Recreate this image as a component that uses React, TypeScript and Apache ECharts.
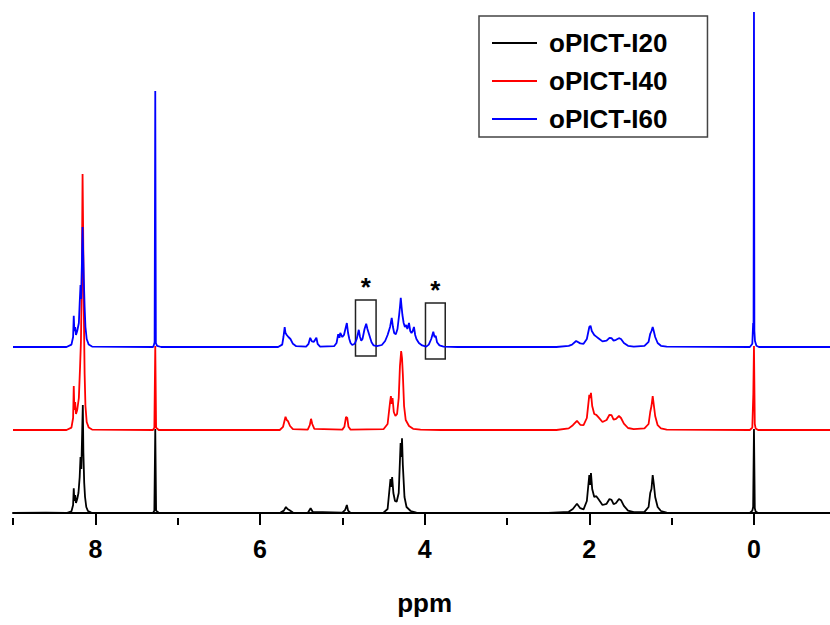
import React, { useEffect, useRef } from "react";
import * as echarts from "echarts";

// Series names (legend order)
const seriesNames = ["oPICT-I20", "oPICT-I40", "oPICT-I60"];
const seriesColors = ["#000000", "#ff0000", "#0000ff"];
// vertical stacking offsets of each trace (intensity units)
const traceOffsets = [0, 20.75, 41.5];

const majorTicks = [0, 2, 4, 6, 8];
const minorTicks = [1, 3, 5, 7, 9];

// [ppm, relative intensity]
const traceI20: [number, number][] = [
  [9.0, 0], [8.6, 0.1], [8.35, 0], [8.29, 0.4], [8.27, 2], [8.262, 6.2], [8.255, 3], [8.245, 4.5], [8.235, 2.5],
  [8.22, 3.5], [8.205, 5], [8.19, 9], [8.18, 14], [8.17, 11], [8.16, 20], [8.152, 27], [8.145, 15], [8.135, 7.5],
  [8.125, 4], [8.11, 1.5], [8.09, 0.5], [8.05, 0.1], [7.8, 0], [7.3, 0], [7.283, 0.6], [7.272, 21], [7.262, 0.6],
  [7.23, 0.1], [6.5, 0], [5.76, 0], [5.71, 0.6], [5.685, 1.5], [5.665, 1], [5.64, 0.7], [5.6, 0.1], [5.42, 0],
  [5.385, 1.2], [5.36, 0.3], [5.0, 0.1], [4.965, 0.8], [4.945, 2], [4.93, 0.6], [4.9, 0], [4.5, 0.1], [4.45, 1],
  [4.415, 8.5], [4.405, 6.5], [4.395, 9], [4.38, 5], [4.36, 3], [4.34, 2.8], [4.315, 5], [4.292, 17.5], [4.283, 14],
  [4.275, 18.7], [4.265, 12], [4.245, 4], [4.22, 1.5], [4.17, 0.5], [4.1, 0.1], [3.8, 0],
  [2.5, 0], [2.25, 0.3], [2.2, 1], [2.15, 2.3], [2.11, 1.2], [2.07, 0.9], [2.03, 3], [2.0, 9.5], [1.99, 7],
  [1.98, 10], [1.965, 6], [1.94, 4], [1.915, 4.2], [1.89, 3.5], [1.84, 2], [1.79, 2.3], [1.755, 3.5], [1.73, 3.3],
  [1.705, 2.2], [1.675, 2.5], [1.64, 3.5], [1.615, 3.2], [1.58, 1.8], [1.53, 0.6], [1.46, 0.2], [1.33, 0.3],
  [1.28, 1.5], [1.26, 5], [1.245, 6], [1.23, 9.5], [1.215, 7], [1.2, 4], [1.17, 1.5], [1.13, 0.5], [1.06, 0.1],
  [0.6, 0], [0.05, 0], [0.02, 0.6], [0.01, 1.5], [0.0, 21], [-0.01, 1.2], [-0.02, 0.4], [-0.05, 0], [-1, 0],
];

const traceI40: [number, number][] = [
  [9.0, 0], [8.35, 0], [8.29, 0.6], [8.27, 3], [8.262, 11], [8.255, 5], [8.245, 7], [8.235, 4], [8.22, 5],
  [8.2, 8], [8.185, 16], [8.175, 22], [8.165, 35], [8.155, 64], [8.148, 50], [8.14, 30], [8.13, 14], [8.12, 6],
  [8.105, 2], [8.08, 0.6], [8.04, 0.1], [7.3, 0], [7.283, 0.6], [7.272, 21], [7.262, 0.6], [7.23, 0],
  [5.76, 0], [5.72, 0.8], [5.69, 3.3], [5.675, 2.5], [5.66, 2.2], [5.635, 1], [5.6, 0.2], [5.42, 0.1],
  [5.395, 1.2], [5.38, 2.8], [5.365, 1.5], [5.34, 0.3], [5.0, 0.1], [4.975, 0.8], [4.955, 3.3], [4.94, 3],
  [4.925, 0.8], [4.9, 0.1], [4.5, 0.2], [4.45, 1.5], [4.42, 7], [4.41, 8.5], [4.4, 6.5], [4.39, 8], [4.375, 4.5],
  [4.355, 3.5], [4.335, 4], [4.315, 8], [4.3, 16], [4.285, 19.75], [4.275, 18], [4.265, 14], [4.25, 6],
  [4.23, 2.5], [4.19, 1], [4.14, 0.3], [4.05, 0.1], [3.8, 0],
  [2.4, 0], [2.25, 0.4], [2.2, 1.2], [2.15, 2.3], [2.11, 1.3], [2.07, 1.2], [2.03, 3], [2.0, 8.8], [1.99, 8],
  [1.98, 9.3], [1.965, 6], [1.94, 4], [1.915, 3.8], [1.89, 3.2], [1.84, 2], [1.79, 2.5], [1.755, 3.8],
  [1.73, 3.7], [1.705, 2.6], [1.675, 2.8], [1.64, 3.5], [1.615, 3], [1.58, 1.6], [1.53, 0.5], [1.46, 0.2],
  [1.33, 0.4], [1.28, 1.5], [1.26, 4.5], [1.245, 6], [1.23, 8.5], [1.215, 6], [1.2, 3.5], [1.17, 1.2],
  [1.13, 0.4], [1.06, 0.1], [0.05, 0], [0.02, 0.6], [0.008, 9], [0.0, 21], [-0.01, 1.5], [-0.02, 0.4],
  [-0.05, 0], [-1, 0],
];

const traceI60: [number, number][] = [
  [9.0, 0], [8.35, 0], [8.29, 0.6], [8.27, 2.5], [8.262, 7.8], [8.255, 4], [8.245, 5], [8.235, 3], [8.22, 4],
  [8.2, 6], [8.19, 11], [8.18, 15.5], [8.172, 12], [8.162, 22], [8.155, 30], [8.148, 24], [8.14, 17], [8.13, 10],
  [8.12, 5], [8.105, 2], [8.08, 0.6], [8.04, 0.1], [7.3, 0], [7.29, 0.4], [7.28, 1.2], [7.272, 64], [7.265, 1],
  [7.25, 0.3], [7.2, 0],
  [5.78, 0], [5.73, 0.6], [5.715, 2.5], [5.7, 5], [5.69, 3.5], [5.675, 3], [5.655, 2.5], [5.63, 2], [5.6, 0.8],
  [5.56, 0.2], [5.44, 0.1], [5.41, 0.8], [5.39, 2.3], [5.37, 1.4], [5.345, 1.3], [5.315, 2.3], [5.3, 0.8],
  [5.27, 0.1], [5.1, 0.2], [5.07, 1], [5.05, 3.2], [5.035, 2.3], [5.025, 3.5], [5.0, 2.5], [4.98, 3],
  [4.945, 6], [4.93, 3.5], [4.915, 2], [4.9, 1], [4.88, 0.5], [4.85, 0.8], [4.825, 2], [4.8, 4.3], [4.785, 2.5],
  [4.77, 1.6], [4.755, 2], [4.73, 4.5], [4.71, 5.8], [4.695, 4.5], [4.68, 3.5], [4.665, 2.5], [4.645, 1.2],
  [4.62, 0.4], [4.58, 0.2], [4.52, 0.5], [4.48, 1.5], [4.45, 3], [4.42, 5], [4.4, 7.3], [4.385, 5], [4.37, 3.5],
  [4.35, 3.2], [4.33, 4.5], [4.31, 8], [4.3, 10], [4.29, 12.3], [4.28, 10], [4.27, 8], [4.255, 6], [4.24, 5],
  [4.225, 5.5], [4.21, 4.5], [4.19, 6], [4.175, 4], [4.16, 3.5], [4.145, 4], [4.13, 5], [4.115, 3], [4.1, 2],
  [4.07, 1], [4.03, 0.4], [3.98, 0.1], [3.95, 0.6], [3.92, 2], [3.895, 3.8], [3.88, 2.5], [3.865, 2.8],
  [3.85, 1.2], [3.82, 0.4], [3.77, 0.1], [3.6, 0],
  [2.4, 0], [2.25, 0.3], [2.21, 0.6], [2.16, 1.5], [2.11, 0.9], [2.07, 0.8], [2.03, 2], [2.0, 5], [1.985, 5.3],
  [1.97, 4], [1.94, 3], [1.915, 2.6], [1.89, 2.2], [1.84, 1.4], [1.79, 1.6], [1.755, 2.3], [1.73, 2.2],
  [1.705, 1.6], [1.675, 1.8], [1.64, 2.2], [1.615, 2], [1.58, 1], [1.53, 0.3], [1.46, 0.1], [1.33, 0.3],
  [1.28, 1.3], [1.26, 3.3], [1.245, 4], [1.23, 5], [1.215, 3.8], [1.2, 2.5], [1.17, 1], [1.13, 0.3],
  [1.06, 0.1], [0.05, 0], [0.02, 0.8], [0.01, 6], [0.005, 4], [0.0, 84], [-0.005, 4], [-0.012, 1.5],
  [-0.03, 0.3], [-0.06, 0], [-1, 0],
];

const traces = [traceI20, traceI40, traceI60];

// Marked regions (ppm from, intensity top) -> (ppm to, intensity bottom)
const markedRegions: [number, number, number, number][] = [
  [4.84, 53.25, 4.59, 39.25],
  [3.99, 52.5, 3.75, 38.5],
];

const FONT = "'Liberation Sans', Arial, sans-serif";

export default function App() {
  const ref = useRef<HTMLDivElement>(null);
  useEffect(() => {
    document.body.style.margin = "0";
    if (!ref.current) return;
    const chart = echarts.init(ref.current, null, { renderer: "svg" });
    const commonAxis = {
      type: "value",
      min: -1,
      max: 9,
      inverse: true,
      gridIndex: 0,
      position: "bottom",
      splitLine: { show: false },
    };
    chart.setOption({
      animation: false,
      backgroundColor: "#ffffff",
      grid: { left: 13, right: -6.3, top: 13, bottom: 107, containLabel: false, outerBoundsMode: "none" },
      legend: {
        data: seriesNames,
        orient: "vertical",
        left: 479,
        top: 16,
        padding: [12, 40, 3, 12],
        itemWidth: 45,
        itemHeight: 14,
        itemGap: 8,
        borderColor: "#444",
        borderWidth: 1.5,
        backgroundColor: "#fff",
        itemStyle: { opacity: 0 },
        lineStyle: { width: 2 },
        textStyle: {
          fontFamily: FONT,
          fontWeight: "bold",
          fontSize: 26,
          lineHeight: 30,
          color: "#000",
          padding: [0, 0, 0, 7],
        },
      },
      xAxis: [
        {
          ...commonAxis,
          name: "ppm",
          nameLocation: "middle",
          nameGap: 72,
          nameTextStyle: { fontFamily: FONT, fontWeight: "bold", fontSize: 26, color: "#000" },
          axisLine: { show: true, lineStyle: { color: "#000", width: 2 } },
          axisTick: { show: true, length: 12, lineStyle: { color: "#000", width: 2 }, customValues: majorTicks },
          axisLabel: {
            show: true,
            margin: 18,
            customValues: majorTicks,
            fontFamily: FONT,
            fontWeight: "bold",
            fontSize: 25,
            color: "#000",
          },
        },
        {
          ...commonAxis,
          axisLine: { show: false },
          axisTick: { show: true, length: 7, lineStyle: { color: "#000", width: 2 }, customValues: minorTicks },
          axisLabel: { show: false },
        },
      ],
      yAxis: { type: "value", min: -1.25, max: 125, show: false },
      series: traces.map((t, i) => ({
        name: seriesNames[i],
        type: "line",
        xAxisIndex: 0,
        symbol: "none",
        showSymbol: false,
        color: seriesColors[i],
        lineStyle: { color: seriesColors[i], width: 1.8 },
        data: t.map(([x, y]) => [x, y + traceOffsets[i]]),
        z: 2 + i,
        markArea:
          i === 2
            ? {
                silent: true,
                itemStyle: { color: "rgba(0,0,0,0)", borderColor: "#222", borderWidth: 1.5 },
                label: {
                  show: true,
                  position: "top",
                  distance: -1,
                  formatter: "*",
                  fontFamily: FONT,
                  fontWeight: "bold",
                  fontSize: 26,
                  color: "#000",
                },
                data: markedRegions.map(([x1, y1, x2, y2]) => [{ coord: [x1, y1] }, { coord: [x2, y2] }]),
              }
            : undefined,
      })),
    });
    return () => chart.dispose();
  }, []);
  return <div ref={ref} style={{ width: 830, height: 625 }} />;
}
